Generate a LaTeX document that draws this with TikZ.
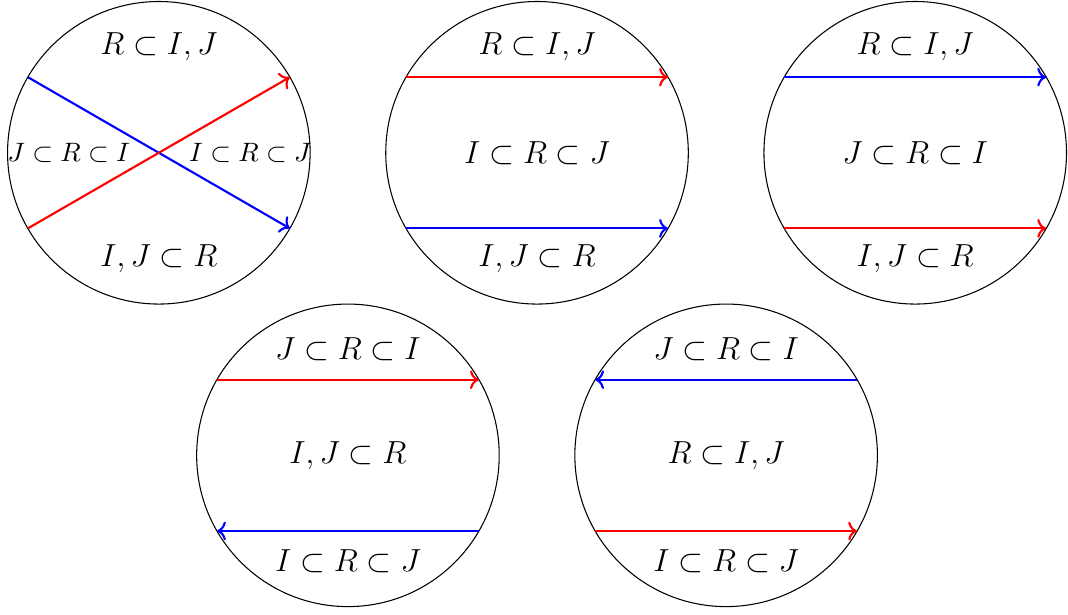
\documentclass[tikz,border=0pt]{standalone}
\usetikzlibrary{arrows.meta}
\begin{document}
\begin{tikzpicture}[
  disc/.style={circle, draw=black, line width=0.4pt, minimum size=4cm, inner sep=0pt, outer sep=0pt},
  lbl/.style={font=\large},
  slbl/.style={font=\fontsize{9.6pt}{11pt}\selectfont},
  redarr/.style={draw=red, thick, ->},
  bluearr/.style={draw=blue, thick, ->}
]
\useasboundingbox (-2.1,-6.1) rectangle (12.02,2.02);
% circle 1
\node[disc] (c1) at (0,0) {};
\node[lbl] (t1a) at (0,1.4) {$R\subset I,J$};
\node[lbl] (t1c) at (0,-1.4) {$I,J\subset R$};
\node[slbl] (t1l) at (-1.19,0) {$J\subset R\subset I$};
\node[slbl] (t1r) at (1.21,0) {$I\subset R\subset J$};
\draw[bluearr] (c1.150) -- (c1.-30);
\draw[redarr] (c1.210) -- (c1.30);
% circle 2
\node[disc] (c2) at (5,0) {};
\node[lbl] (t2a) at (5,1.4) {$R\subset I,J$};
\node[lbl] (t2b) at (5,0) {$I\subset R\subset J$};
\node[lbl] (t2c) at (5,-1.4) {$I,J\subset R$};
\draw[redarr] (c2.150) -- (c2.30);
\draw[bluearr] (c2.210) -- (c2.-30);
% circle 3
\node[disc] (c3) at (10,0) {};
\node[lbl] (t3a) at (10,1.4) {$R\subset I,J$};
\node[lbl] (t3b) at (10,0) {$J\subset R\subset I$};
\node[lbl] (t3c) at (10,-1.4) {$I,J\subset R$};
\draw[bluearr] (c3.150) -- (c3.30);
\draw[redarr] (c3.210) -- (c3.-30);
% circle 4
\node[disc] (c4) at (2.5,-4) {};
\node[lbl] (t4a) at (2.5,-2.6) {$J\subset R\subset I$};
\node[lbl] (t4b) at (2.5,-4) {$I,J\subset R$};
\node[lbl] (t4c) at (2.5,-5.4) {$I\subset R\subset J$};
\draw[redarr] (c4.150) -- (c4.30);
\draw[bluearr] (c4.-30) -- (c4.210);
% circle 5
\node[disc] (c5) at (7.5,-4) {};
\node[lbl] (t5a) at (7.5,-2.6) {$J\subset R\subset I$};
\node[lbl] (t5b) at (7.5,-4) {$R\subset I,J$};
\node[lbl] (t5c) at (7.5,-5.4) {$I\subset R\subset J$};
\draw[bluearr] (c5.30) -- (c5.150);
\draw[redarr] (c5.210) -- (c5.-30);
\end{tikzpicture}
\end{document}
